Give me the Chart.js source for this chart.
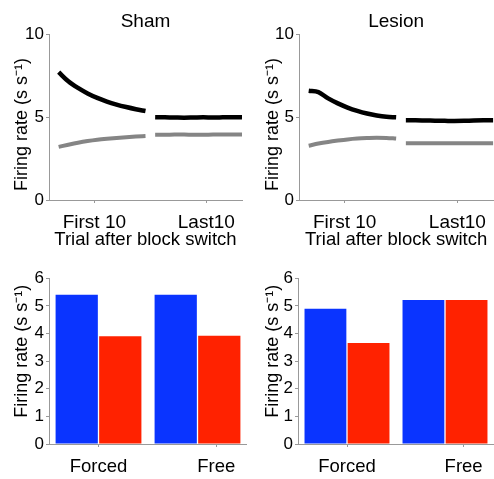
<!DOCTYPE html>
<html><head><meta charset="utf-8">
<script src="https://cdn.jsdelivr.net/npm/chart.js@4"></script>
<style>
body{margin:0;background:#fff;}
#wrap{position:relative;width:494px;height:479px;background:#fff;}
canvas{position:absolute;}
</style></head><body>
<div id="wrap">
<canvas id="c1" width="247" height="250" style="left:0;top:0"></canvas>
<canvas id="c2" width="247" height="250" style="left:247px;top:0"></canvas>
<canvas id="c3" width="247" height="224" style="left:0;top:255px"></canvas>
<canvas id="c4" width="247" height="224" style="left:247px;top:255px"></canvas>
</div>
<script>
// ---- data ----
const panelTitles = ['Sham', 'Lesion'];
const trialsFirst = [1, 2, 3, 4, 5, 6, 7, 8, 9, 10];
const trialsLast = [11, 12, 13, 14, 15, 16, 17, 18, 19, 20];
const topTickValues = [4.7, 16.3];
const topTickLabels = ['First 10', 'Last10'];
const topXTitle = 'Trial after block switch';
const yTitle = 'Firing rate (s s\u207B\u00B9)';

const shamBlackFirst = [7.7, 7.15, 6.75, 6.42, 6.15, 5.93, 5.75, 5.6, 5.47, 5.36];
const shamBlackLast = [4.99, 4.98, 4.97, 4.96, 4.97, 4.98, 4.97, 4.98, 4.99, 4.98];
const shamGrayFirst = [3.2, 3.33, 3.45, 3.55, 3.63, 3.69, 3.74, 3.78, 3.82, 3.85];
const shamGrayLast = [3.93, 3.93, 3.94, 3.94, 3.93, 3.93, 3.94, 3.94, 3.94, 3.94];
const lesionBlackFirst = [6.58, 6.5, 6.12, 5.82, 5.57, 5.37, 5.21, 5.09, 5.01, 4.98];
const lesionBlackLast = [4.8, 4.8, 4.79, 4.78, 4.77, 4.76, 4.77, 4.79, 4.8, 4.8];
const lesionGrayFirst = [3.27, 3.4, 3.5, 3.58, 3.65, 3.7, 3.73, 3.75, 3.74, 3.7];
const lesionGrayLast = [3.42, 3.42, 3.42, 3.42, 3.42, 3.42, 3.42, 3.42, 3.42, 3.42];

const barCategories = ['Forced', 'Free'];
const barPositions = [1, 2];
const barLabelPositions = [1, 2.19];
const shamBlue = [5.4, 5.4];
const shamRed = [3.9, 3.92];
const lesionBlue = [4.9, 5.21];
const lesionRed = [3.66, 5.21];

// ---- style ----
const FONT = "'Liberation Sans', Arial, sans-serif";
const AXIS = '#999999';
const BLACK = '#000000';
const GRAY = '#858585';
const BLUE = '#0a34ff';
const RED = '#ff2200';

Chart.defaults.font.family = FONT;
Chart.defaults.color = '#000';

function seg(first, last) {
  const pts = first.map((y, i) => ({x: trialsFirst[i], y}));
  pts.push({x: (trialsFirst[trialsFirst.length - 1] + trialsLast[0]) / 2, y: null});
  return pts.concat(last.map((y, i) => ({x: trialsLast[i], y})));
}

function lineChart(id, title, bF, bL, gF, gL, yWidth, rightPad, yTitlePad) {
  return new Chart(document.getElementById(id), {
    type: 'line',
    data: {
      datasets: [
        {label: 'black', data: seg(bF, bL), borderColor: BLACK, borderWidth: 4.5, pointRadius: 0, cubicInterpolationMode: 'monotone', spanGaps: false, borderCapStyle: 'butt'},
        {label: 'gray', data: seg(gF, gL), borderColor: GRAY, borderWidth: 4, pointRadius: 0, cubicInterpolationMode: 'monotone', spanGaps: false, borderCapStyle: 'butt'}
      ]
    },
    options: {
      responsive: false, animation: false, devicePixelRatio: 1,
      layout: {padding: {left: 0, right: rightPad, top: 0, bottom: 0}},
      plugins: {
        legend: {display: false}, tooltip: {enabled: false},
        title: {display: true, fullSize: false, text: title, color: '#000', font: {size: 19, weight: 'normal'}, padding: {top: 10, bottom: 1.2}}
      },
      scales: {
        x: {
          type: 'linear', min: 0, max: 20, offset: false,
          border: {color: AXIS, width: 1},
          grid: {display: true, drawOnChartArea: false, drawTicks: true, tickLength: 3, color: AXIS},
          afterBuildTicks: s => { s.ticks = topTickValues.map(v => ({value: v})); },
          ticks: {autoSkip: false, maxRotation: 0, padding: 8, font: {size: 19}, color: '#000', callback: (v, i) => topTickLabels[i]},
          title: {display: true, text: topXTitle, color: '#000', font: {size: 18.5}, padding: {top: 0, bottom: -1}},
          afterFit: s => { s.height = 50; }
        },
        y: {
          min: 0, max: 10,
          border: {color: AXIS, width: 1},
          grid: {display: true, drawOnChartArea: false, drawTicks: true, tickLength: 3, color: AXIS},
          ticks: {stepSize: 5, padding: 2, font: {size: 17}, color: '#000'},
          title: {display: true, text: yTitle + '   ', color: '#000', font: {size: 18}, padding: {top: yTitlePad, bottom: 0}},
          afterFit: s => { s.width = yWidth; }
        }
      }
    }
  });
}

function barChart(id, blue, red, yWidth, yTitlePad) {
  return new Chart(document.getElementById(id), {
    type: 'bar',
    data: {
      datasets: [
        {label: 'blue', data: barPositions.map((x, i) => ({x, y: blue[i]})), backgroundColor: BLUE, borderWidth: 0},
        {label: 'red', data: barPositions.map((x, i) => ({x, y: red[i]})), backgroundColor: RED, borderWidth: 0}
      ]
    },
    options: {
      responsive: false, animation: false, devicePixelRatio: 1,
      categoryPercentage: 0.88, barPercentage: 0.97,
      layout: {padding: {left: 0, right: 0, top: 23.3, bottom: 0}},
      plugins: {legend: {display: false}, tooltip: {enabled: false}},
      scales: {
        x: {
          type: 'linear', min: 0.5, max: 2.5, offset: false,
          border: {color: AXIS, width: 1},
          grid: {display: true, offset: false, drawOnChartArea: false, drawTicks: true, tickLength: 3, color: AXIS},
          afterBuildTicks: s => { s.ticks = barLabelPositions.map(v => ({value: v})); },
          ticks: {autoSkip: false, maxRotation: 0, padding: 9, font: {size: 18.5}, color: '#000', callback: (v, i) => barCategories[i]},
          afterFit: s => { s.height = 35; }
        },
        y: {
          min: 0, max: 6,
          border: {color: AXIS, width: 1},
          grid: {display: true, drawOnChartArea: false, drawTicks: true, tickLength: 3, color: AXIS},
          ticks: {stepSize: 1, padding: 2, font: {size: 17}, color: '#000'},
          title: {display: true, text: '    ' + yTitle, color: '#000', font: {size: 18}, padding: {top: yTitlePad, bottom: 0}},
          afterFit: s => { s.width = yWidth; }
        }
      }
    }
  });
}

lineChart('c1', panelTitles[0], shamBlackFirst, shamBlackLast, shamGrayFirst, shamGrayLast, 49, 5, 11);
lineChart('c2', panelTitles[1], lesionBlackFirst, lesionBlackLast, lesionGrayFirst, lesionGrayLast, 52, 0, 15);
barChart('c3', shamBlue, shamRed, 49, 11);
barChart('c4', lesionBlue, lesionRed, 51, 15);
</script>
</body></html>
